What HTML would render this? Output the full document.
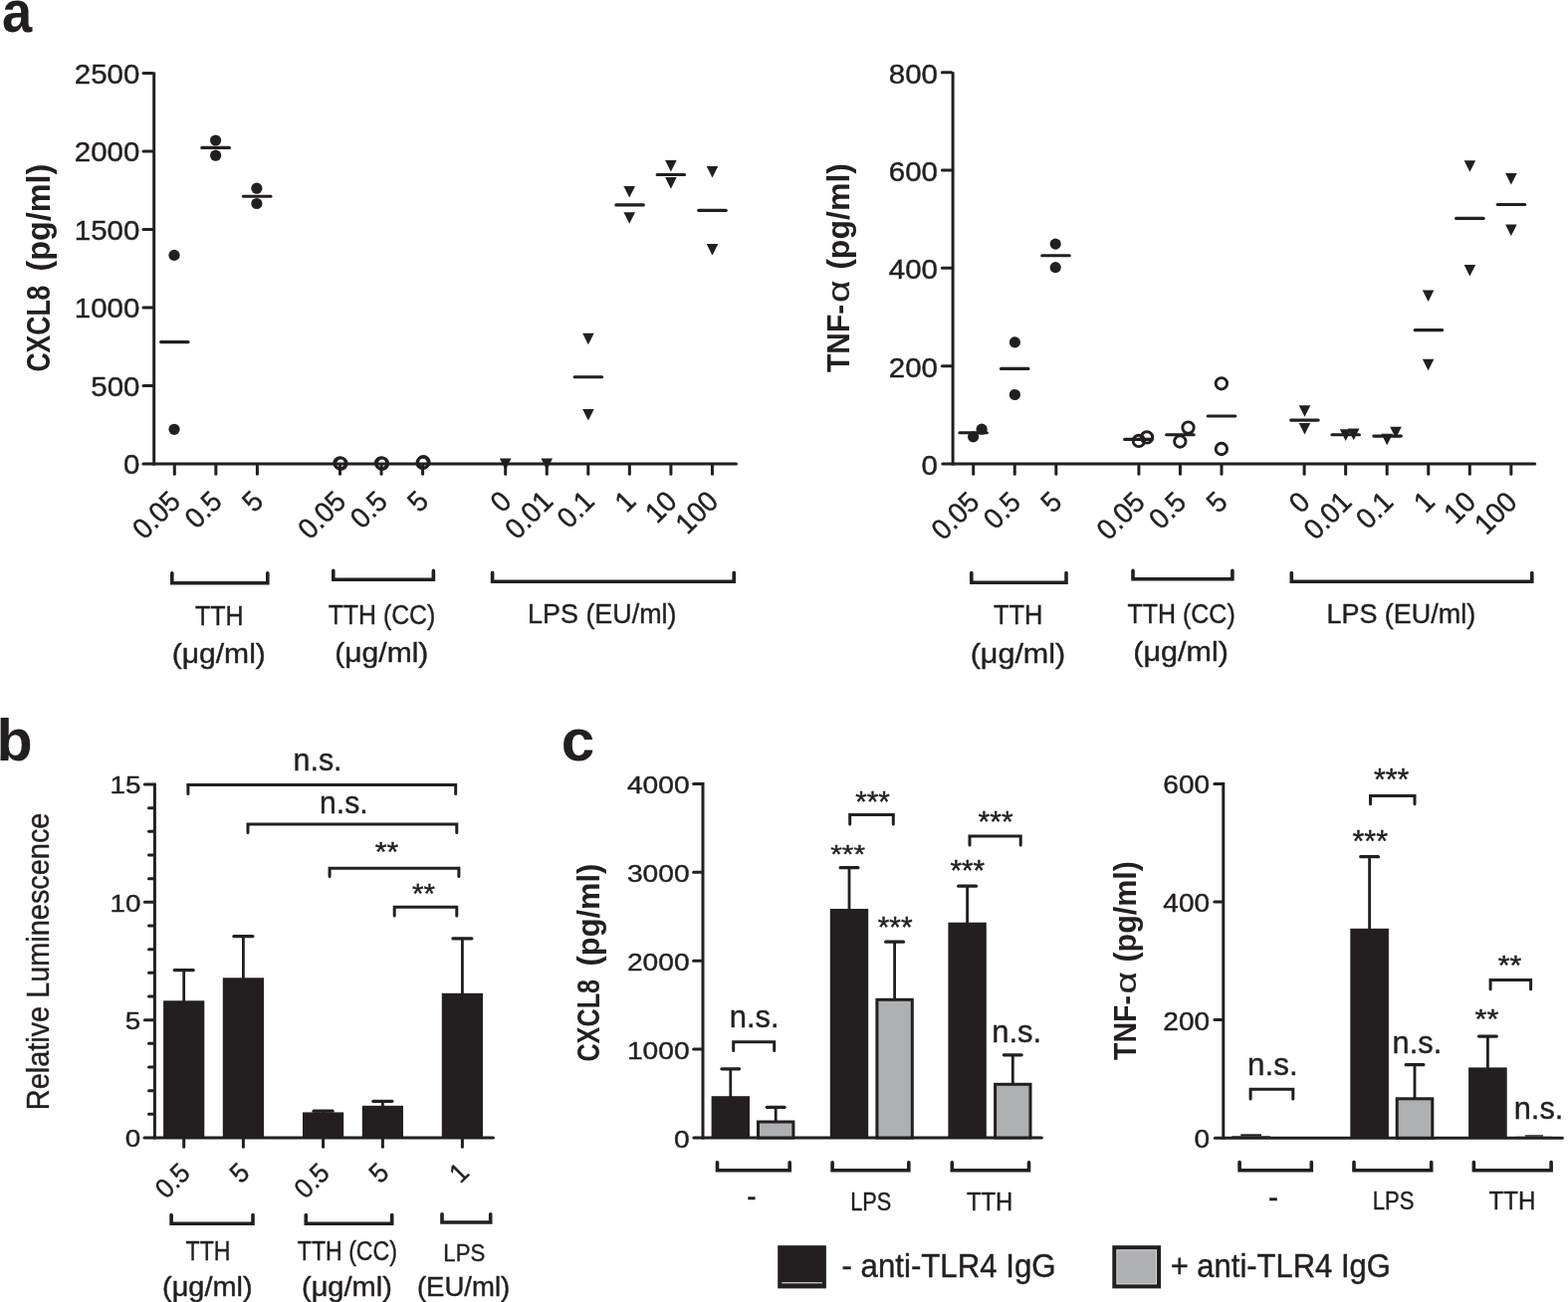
<!DOCTYPE html>
<html><head><meta charset="utf-8"><title>Figure</title>
<style>html,body{margin:0;padding:0;background:#fff;}body{width:1575px;height:1308px;overflow:hidden;}svg{display:block;}</style>
</head><body>
<svg width="1575" height="1308" viewBox="0 0 1575 1308">
<rect width="1575" height="1308" fill="#ffffff"/>
<g stroke="#231f20" fill="none">
<line x1="154.70" y1="72.40" x2="154.70" y2="467.50" stroke-width="3.0" stroke-linecap="butt"/>
<line x1="144.00" y1="466.00" x2="739.40" y2="466.00" stroke-width="3.2" stroke-linecap="round"/>
<line x1="144.00" y1="387.48" x2="153.20" y2="387.48" stroke-width="3.0" stroke-linecap="round"/>
<line x1="144.00" y1="308.96" x2="153.20" y2="308.96" stroke-width="3.0" stroke-linecap="round"/>
<line x1="144.00" y1="230.44" x2="153.20" y2="230.44" stroke-width="3.0" stroke-linecap="round"/>
<line x1="144.00" y1="151.92" x2="153.20" y2="151.92" stroke-width="3.0" stroke-linecap="round"/>
<line x1="144.00" y1="73.40" x2="153.20" y2="73.40" stroke-width="3.0" stroke-linecap="round"/>
<line x1="175.30" y1="467.50" x2="175.30" y2="476.20" stroke-width="3.0" stroke-linecap="round"/>
<line x1="216.85" y1="467.50" x2="216.85" y2="476.20" stroke-width="3.0" stroke-linecap="round"/>
<line x1="258.40" y1="467.50" x2="258.40" y2="476.20" stroke-width="3.0" stroke-linecap="round"/>
<line x1="341.50" y1="467.50" x2="341.50" y2="476.20" stroke-width="3.0" stroke-linecap="round"/>
<line x1="383.05" y1="467.50" x2="383.05" y2="476.20" stroke-width="3.0" stroke-linecap="round"/>
<line x1="424.60" y1="467.50" x2="424.60" y2="476.20" stroke-width="3.0" stroke-linecap="round"/>
<line x1="507.70" y1="467.50" x2="507.70" y2="476.20" stroke-width="3.0" stroke-linecap="round"/>
<line x1="549.25" y1="467.50" x2="549.25" y2="476.20" stroke-width="3.0" stroke-linecap="round"/>
<line x1="590.80" y1="467.50" x2="590.80" y2="476.20" stroke-width="3.0" stroke-linecap="round"/>
<line x1="632.35" y1="467.50" x2="632.35" y2="476.20" stroke-width="3.0" stroke-linecap="round"/>
<line x1="673.90" y1="467.50" x2="673.90" y2="476.20" stroke-width="3.0" stroke-linecap="round"/>
<line x1="715.45" y1="467.50" x2="715.45" y2="476.20" stroke-width="3.0" stroke-linecap="round"/>
<circle cx="175.00" cy="256.40" r="5.6" fill="#231f20" stroke="none"/>
<circle cx="175.00" cy="431.30" r="5.6" fill="#231f20" stroke="none"/>
<line x1="161.55" y1="343.60" x2="189.05" y2="343.60" stroke-width="3.1" stroke-linecap="round"/>
<circle cx="216.60" cy="141.00" r="5.6" fill="#231f20" stroke="none"/>
<circle cx="216.60" cy="156.20" r="5.6" fill="#231f20" stroke="none"/>
<line x1="202.85" y1="148.40" x2="230.35" y2="148.40" stroke-width="3.1" stroke-linecap="round"/>
<circle cx="257.90" cy="189.20" r="5.6" fill="#231f20" stroke="none"/>
<circle cx="257.90" cy="204.50" r="5.6" fill="#231f20" stroke="none"/>
<line x1="244.45" y1="197.20" x2="271.95" y2="197.20" stroke-width="3.1" stroke-linecap="round"/>
<circle cx="341.50" cy="465.30" r="5.7" fill="none" stroke-width="2.9"/>
<circle cx="342.50" cy="465.80" r="5.7" fill="none" stroke-width="2.9"/>
<circle cx="383.05" cy="465.30" r="5.7" fill="none" stroke-width="2.9"/>
<circle cx="384.05" cy="465.80" r="5.7" fill="none" stroke-width="2.9"/>
<circle cx="424.60" cy="465.00" r="5.7" fill="none" stroke-width="2.9"/>
<circle cx="425.40" cy="464.20" r="5.7" fill="none" stroke-width="2.9"/>
<polygon points="501.90,460.40 513.50,460.40 507.70,472.00" fill="#231f20" stroke="none"/>
<polygon points="543.45,460.40 555.05,460.40 549.25,472.00" fill="#231f20" stroke="none"/>
<polygon points="585.10,334.70 596.70,334.70 590.90,346.30" fill="#231f20" stroke="none"/>
<polygon points="585.10,411.00 596.70,411.00 590.90,422.60" fill="#231f20" stroke="none"/>
<line x1="577.15" y1="378.70" x2="604.65" y2="378.70" stroke-width="3.1" stroke-linecap="round"/>
<polygon points="626.40,187.00 638.00,187.00 632.20,198.60" fill="#231f20" stroke="none"/>
<polygon points="626.40,213.20 638.00,213.20 632.20,224.80" fill="#231f20" stroke="none"/>
<line x1="618.85" y1="205.90" x2="646.35" y2="205.90" stroke-width="3.1" stroke-linecap="round"/>
<polygon points="668.10,161.00 679.70,161.00 673.90,172.60" fill="#231f20" stroke="none"/>
<polygon points="668.10,178.10 679.70,178.10 673.90,189.70" fill="#231f20" stroke="none"/>
<line x1="660.15" y1="175.50" x2="687.65" y2="175.50" stroke-width="3.1" stroke-linecap="round"/>
<polygon points="709.70,166.90 721.30,166.90 715.50,178.50" fill="#231f20" stroke="none"/>
<polygon points="709.70,245.00 721.30,245.00 715.50,256.60" fill="#231f20" stroke="none"/>
<line x1="701.75" y1="211.40" x2="729.25" y2="211.40" stroke-width="3.1" stroke-linecap="round"/>
<polyline points="172.80,575.70 172.80,585.80 268.80,585.80 268.80,575.70" fill="none" stroke-width="3.6" stroke-linecap="round" stroke-linejoin="miter"/>
<polyline points="334.80,573.30 334.80,582.20 435.40,582.20 435.40,573.30" fill="none" stroke-width="3.6" stroke-linecap="round" stroke-linejoin="miter"/>
<polyline points="494.60,575.30 494.60,584.20 737.20,584.20 737.20,575.30" fill="none" stroke-width="3.6" stroke-linecap="round" stroke-linejoin="miter"/>
<line x1="957.10" y1="72.20" x2="957.10" y2="467.50" stroke-width="3.0" stroke-linecap="butt"/>
<line x1="946.90" y1="466.00" x2="1541.60" y2="466.00" stroke-width="3.2" stroke-linecap="round"/>
<line x1="946.40" y1="367.68" x2="955.60" y2="367.68" stroke-width="3.0" stroke-linecap="round"/>
<line x1="946.40" y1="269.35" x2="955.60" y2="269.35" stroke-width="3.0" stroke-linecap="round"/>
<line x1="946.40" y1="171.02" x2="955.60" y2="171.02" stroke-width="3.0" stroke-linecap="round"/>
<line x1="946.40" y1="72.70" x2="955.60" y2="72.70" stroke-width="3.0" stroke-linecap="round"/>
<line x1="977.70" y1="467.50" x2="977.70" y2="476.30" stroke-width="3.0" stroke-linecap="round"/>
<line x1="1019.25" y1="467.50" x2="1019.25" y2="476.30" stroke-width="3.0" stroke-linecap="round"/>
<line x1="1060.80" y1="467.50" x2="1060.80" y2="476.30" stroke-width="3.0" stroke-linecap="round"/>
<line x1="1143.90" y1="467.50" x2="1143.90" y2="476.30" stroke-width="3.0" stroke-linecap="round"/>
<line x1="1185.45" y1="467.50" x2="1185.45" y2="476.30" stroke-width="3.0" stroke-linecap="round"/>
<line x1="1227.00" y1="467.50" x2="1227.00" y2="476.30" stroke-width="3.0" stroke-linecap="round"/>
<line x1="1310.10" y1="467.50" x2="1310.10" y2="476.30" stroke-width="3.0" stroke-linecap="round"/>
<line x1="1351.65" y1="467.50" x2="1351.65" y2="476.30" stroke-width="3.0" stroke-linecap="round"/>
<line x1="1393.20" y1="467.50" x2="1393.20" y2="476.30" stroke-width="3.0" stroke-linecap="round"/>
<line x1="1434.75" y1="467.50" x2="1434.75" y2="476.30" stroke-width="3.0" stroke-linecap="round"/>
<line x1="1476.30" y1="467.50" x2="1476.30" y2="476.30" stroke-width="3.0" stroke-linecap="round"/>
<line x1="1517.85" y1="467.50" x2="1517.85" y2="476.30" stroke-width="3.0" stroke-linecap="round"/>
<circle cx="977.60" cy="438.80" r="5.6" fill="#231f20" stroke="none"/>
<circle cx="986.10" cy="431.20" r="5.6" fill="#231f20" stroke="none"/>
<line x1="963.85" y1="434.70" x2="991.35" y2="434.70" stroke-width="3.1" stroke-linecap="round"/>
<circle cx="1019.40" cy="343.90" r="5.6" fill="#231f20" stroke="none"/>
<circle cx="1019.40" cy="396.50" r="5.6" fill="#231f20" stroke="none"/>
<line x1="1005.45" y1="370.40" x2="1032.95" y2="370.40" stroke-width="3.1" stroke-linecap="round"/>
<circle cx="1060.20" cy="245.10" r="5.6" fill="#231f20" stroke="none"/>
<circle cx="1060.20" cy="268.60" r="5.6" fill="#231f20" stroke="none"/>
<line x1="1046.75" y1="256.70" x2="1074.25" y2="256.70" stroke-width="3.1" stroke-linecap="round"/>
<circle cx="1143.90" cy="442.90" r="5.7" fill="none" stroke-width="2.9"/>
<circle cx="1152.00" cy="439.40" r="5.7" fill="none" stroke-width="2.9"/>
<line x1="1129.65" y1="441.40" x2="1157.15" y2="441.40" stroke-width="3.1" stroke-linecap="round"/>
<circle cx="1185.30" cy="443.50" r="5.7" fill="none" stroke-width="2.9"/>
<circle cx="1193.50" cy="429.60" r="5.7" fill="none" stroke-width="2.9"/>
<line x1="1171.65" y1="436.70" x2="1199.15" y2="436.70" stroke-width="3.1" stroke-linecap="round"/>
<circle cx="1226.90" cy="385.30" r="5.7" fill="none" stroke-width="2.9"/>
<circle cx="1226.90" cy="451.00" r="5.7" fill="none" stroke-width="2.9"/>
<line x1="1213.25" y1="418.00" x2="1240.75" y2="418.00" stroke-width="3.1" stroke-linecap="round"/>
<polygon points="1304.70,407.20 1316.30,407.20 1310.50,418.80" fill="#231f20" stroke="none"/>
<polygon points="1304.70,425.00 1316.30,425.00 1310.50,436.60" fill="#231f20" stroke="none"/>
<line x1="1296.65" y1="422.10" x2="1324.15" y2="422.10" stroke-width="3.1" stroke-linecap="round"/>
<polygon points="1345.90,431.30 1357.50,431.30 1351.70,442.90" fill="#231f20" stroke="none"/>
<polygon points="1353.90,430.60 1365.50,430.60 1359.70,442.20" fill="#231f20" stroke="none"/>
<line x1="1337.95" y1="436.70" x2="1365.45" y2="436.70" stroke-width="3.1" stroke-linecap="round"/>
<polygon points="1387.40,435.70 1399.00,435.70 1393.20,447.30" fill="#231f20" stroke="none"/>
<polygon points="1396.20,428.70 1407.80,428.70 1402.00,440.30" fill="#231f20" stroke="none"/>
<line x1="1379.85" y1="438.10" x2="1407.35" y2="438.10" stroke-width="3.1" stroke-linecap="round"/>
<polygon points="1428.80,291.40 1440.40,291.40 1434.60,303.00" fill="#231f20" stroke="none"/>
<polygon points="1428.80,360.70 1440.40,360.70 1434.60,372.30" fill="#231f20" stroke="none"/>
<line x1="1421.15" y1="331.60" x2="1448.65" y2="331.60" stroke-width="3.1" stroke-linecap="round"/>
<polygon points="1470.60,161.20 1482.20,161.20 1476.40,172.80" fill="#231f20" stroke="none"/>
<polygon points="1470.60,265.90 1482.20,265.90 1476.40,277.50" fill="#231f20" stroke="none"/>
<line x1="1462.65" y1="219.40" x2="1490.15" y2="219.40" stroke-width="3.1" stroke-linecap="round"/>
<polygon points="1512.10,173.90 1523.70,173.90 1517.90,185.50" fill="#231f20" stroke="none"/>
<polygon points="1512.10,225.40 1523.70,225.40 1517.90,237.00" fill="#231f20" stroke="none"/>
<line x1="1504.25" y1="205.50" x2="1531.75" y2="205.50" stroke-width="3.1" stroke-linecap="round"/>
<polyline points="975.80,575.50 975.80,585.30 1071.00,585.30 1071.00,575.50" fill="none" stroke-width="3.6" stroke-linecap="round" stroke-linejoin="miter"/>
<polyline points="1138.00,573.40 1138.00,581.80 1237.90,581.80 1237.90,573.40" fill="none" stroke-width="3.6" stroke-linecap="round" stroke-linejoin="miter"/>
<polyline points="1297.30,575.50 1297.30,584.30 1538.80,584.30 1538.80,575.50" fill="none" stroke-width="3.6" stroke-linecap="round" stroke-linejoin="miter"/>
<line x1="155.40" y1="786.50" x2="155.40" y2="1144.50" stroke-width="3.0" stroke-linecap="butt"/>
<line x1="145.10" y1="1143.00" x2="495.40" y2="1143.00" stroke-width="3.2" stroke-linecap="round"/>
<line x1="149.50" y1="1119.33" x2="153.90" y2="1119.33" stroke-width="3.0" stroke-linecap="round"/>
<line x1="149.50" y1="1095.67" x2="153.90" y2="1095.67" stroke-width="3.0" stroke-linecap="round"/>
<line x1="149.50" y1="1072.00" x2="153.90" y2="1072.00" stroke-width="3.0" stroke-linecap="round"/>
<line x1="149.50" y1="1048.33" x2="153.90" y2="1048.33" stroke-width="3.0" stroke-linecap="round"/>
<line x1="145.40" y1="1024.67" x2="153.90" y2="1024.67" stroke-width="3.0" stroke-linecap="round"/>
<line x1="149.50" y1="1001.00" x2="153.90" y2="1001.00" stroke-width="3.0" stroke-linecap="round"/>
<line x1="149.50" y1="977.33" x2="153.90" y2="977.33" stroke-width="3.0" stroke-linecap="round"/>
<line x1="149.50" y1="953.67" x2="153.90" y2="953.67" stroke-width="3.0" stroke-linecap="round"/>
<line x1="149.50" y1="930.00" x2="153.90" y2="930.00" stroke-width="3.0" stroke-linecap="round"/>
<line x1="145.40" y1="906.33" x2="153.90" y2="906.33" stroke-width="3.0" stroke-linecap="round"/>
<line x1="149.50" y1="882.67" x2="153.90" y2="882.67" stroke-width="3.0" stroke-linecap="round"/>
<line x1="149.50" y1="859.00" x2="153.90" y2="859.00" stroke-width="3.0" stroke-linecap="round"/>
<line x1="149.50" y1="835.33" x2="153.90" y2="835.33" stroke-width="3.0" stroke-linecap="round"/>
<line x1="149.50" y1="811.67" x2="153.90" y2="811.67" stroke-width="3.0" stroke-linecap="round"/>
<line x1="145.40" y1="788.00" x2="153.90" y2="788.00" stroke-width="3.0" stroke-linecap="round"/>
<line x1="184.70" y1="974.70" x2="184.70" y2="1006.30" stroke-width="2.8" stroke-linecap="butt"/>
<line x1="175.20" y1="974.70" x2="194.20" y2="974.70" stroke-width="3.2" stroke-linecap="round"/>
<rect x="164.10" y="1005.30" width="41.20" height="137.70" fill="#231f20" stroke="none"/>
<line x1="184.70" y1="1144.50" x2="184.70" y2="1152.20" stroke-width="3.0" stroke-linecap="round"/>
<line x1="244.40" y1="940.60" x2="244.40" y2="983.30" stroke-width="2.8" stroke-linecap="butt"/>
<line x1="234.90" y1="940.60" x2="253.90" y2="940.60" stroke-width="3.2" stroke-linecap="round"/>
<rect x="223.80" y="982.30" width="41.20" height="160.70" fill="#231f20" stroke="none"/>
<line x1="244.40" y1="1144.50" x2="244.40" y2="1152.20" stroke-width="3.0" stroke-linecap="round"/>
<line x1="324.60" y1="1116.20" x2="324.60" y2="1118.40" stroke-width="2.8" stroke-linecap="butt"/>
<line x1="315.10" y1="1116.20" x2="334.10" y2="1116.20" stroke-width="3.2" stroke-linecap="round"/>
<rect x="304.00" y="1117.40" width="41.20" height="25.60" fill="#231f20" stroke="none"/>
<line x1="324.60" y1="1144.50" x2="324.60" y2="1152.20" stroke-width="3.0" stroke-linecap="round"/>
<line x1="384.40" y1="1106.30" x2="384.40" y2="1111.80" stroke-width="2.8" stroke-linecap="butt"/>
<line x1="374.90" y1="1106.30" x2="393.90" y2="1106.30" stroke-width="3.2" stroke-linecap="round"/>
<rect x="363.80" y="1110.80" width="41.20" height="32.20" fill="#231f20" stroke="none"/>
<line x1="384.40" y1="1144.50" x2="384.40" y2="1152.20" stroke-width="3.0" stroke-linecap="round"/>
<line x1="464.40" y1="942.80" x2="464.40" y2="998.80" stroke-width="2.8" stroke-linecap="butt"/>
<line x1="454.90" y1="942.80" x2="473.90" y2="942.80" stroke-width="3.2" stroke-linecap="round"/>
<rect x="443.80" y="997.80" width="41.20" height="145.20" fill="#231f20" stroke="none"/>
<line x1="464.40" y1="1144.50" x2="464.40" y2="1152.20" stroke-width="3.0" stroke-linecap="round"/>
<polyline points="188.90,797.50 188.90,788.40 457.70,788.40 457.70,797.50" fill="none" stroke-width="3.0" stroke-linecap="round" stroke-linejoin="miter"/>
<polyline points="249.00,836.50 249.00,828.10 458.80,828.10 458.80,836.50" fill="none" stroke-width="3.0" stroke-linecap="round" stroke-linejoin="miter"/>
<polyline points="331.10,880.50 331.10,872.20 460.90,872.20 460.90,880.50" fill="none" stroke-width="3.0" stroke-linecap="round" stroke-linejoin="miter"/>
<polyline points="396.20,920.00 396.20,911.30 458.80,911.30 458.80,920.00" fill="none" stroke-width="3.0" stroke-linecap="round" stroke-linejoin="miter"/>
<polyline points="172.10,1220.60 172.10,1229.20 254.00,1229.20 254.00,1220.60" fill="none" stroke-width="3.6" stroke-linecap="round" stroke-linejoin="miter"/>
<polyline points="307.30,1220.60 307.30,1229.20 393.70,1229.20 393.70,1220.60" fill="none" stroke-width="3.6" stroke-linecap="round" stroke-linejoin="miter"/>
<polyline points="444.00,1219.80 444.00,1228.00 492.70,1228.00 492.70,1219.80" fill="none" stroke-width="3.6" stroke-linecap="round" stroke-linejoin="miter"/>
<line x1="706.00" y1="786.00" x2="706.00" y2="1144.50" stroke-width="3.0" stroke-linecap="butt"/>
<line x1="697.00" y1="1143.00" x2="1046.30" y2="1143.00" stroke-width="3.2" stroke-linecap="round"/>
<line x1="696.60" y1="1054.10" x2="704.50" y2="1054.10" stroke-width="3.0" stroke-linecap="round"/>
<line x1="696.60" y1="965.20" x2="704.50" y2="965.20" stroke-width="3.0" stroke-linecap="round"/>
<line x1="696.60" y1="876.30" x2="704.50" y2="876.30" stroke-width="3.0" stroke-linecap="round"/>
<line x1="696.60" y1="787.40" x2="704.50" y2="787.40" stroke-width="3.0" stroke-linecap="round"/>
<line x1="733.80" y1="1073.80" x2="733.80" y2="1102.20" stroke-width="2.8" stroke-linecap="butt"/>
<line x1="724.90" y1="1073.80" x2="742.70" y2="1073.80" stroke-width="3.2" stroke-linecap="round"/>
<rect x="714.60" y="1101.20" width="38.40" height="41.80" fill="#231f20" stroke="none"/>
<line x1="779.20" y1="1112.30" x2="779.20" y2="1126.50" stroke-width="2.8" stroke-linecap="butt"/>
<line x1="770.30" y1="1112.30" x2="788.10" y2="1112.30" stroke-width="3.2" stroke-linecap="round"/>
<rect x="761.50" y="1127.00" width="35.40" height="16.00" fill="#afb0b2" stroke="#231f20" stroke-width="3.0"/>
<line x1="853.00" y1="871.70" x2="853.00" y2="914.00" stroke-width="2.8" stroke-linecap="butt"/>
<line x1="844.10" y1="871.70" x2="861.90" y2="871.70" stroke-width="3.2" stroke-linecap="round"/>
<rect x="833.80" y="913.00" width="38.40" height="230.00" fill="#231f20" stroke="none"/>
<line x1="898.60" y1="946.20" x2="898.60" y2="1003.80" stroke-width="2.8" stroke-linecap="butt"/>
<line x1="889.70" y1="946.20" x2="907.50" y2="946.20" stroke-width="3.2" stroke-linecap="round"/>
<rect x="880.90" y="1004.30" width="35.40" height="138.70" fill="#afb0b2" stroke="#231f20" stroke-width="3.0"/>
<line x1="971.60" y1="890.20" x2="971.60" y2="927.70" stroke-width="2.8" stroke-linecap="butt"/>
<line x1="962.70" y1="890.20" x2="980.50" y2="890.20" stroke-width="3.2" stroke-linecap="round"/>
<rect x="952.40" y="926.70" width="38.40" height="216.30" fill="#231f20" stroke="none"/>
<line x1="1017.30" y1="1059.80" x2="1017.30" y2="1088.80" stroke-width="2.8" stroke-linecap="butt"/>
<line x1="1008.40" y1="1059.80" x2="1026.20" y2="1059.80" stroke-width="3.2" stroke-linecap="round"/>
<rect x="999.60" y="1089.30" width="35.40" height="53.70" fill="#afb0b2" stroke="#231f20" stroke-width="3.0"/>
<polyline points="736.70,1055.50 736.70,1046.80 777.70,1046.80 777.70,1055.50" fill="none" stroke-width="3.0" stroke-linecap="round" stroke-linejoin="miter"/>
<polyline points="853.70,827.90 853.70,818.60 897.30,818.60 897.30,827.90" fill="none" stroke-width="3.0" stroke-linecap="round" stroke-linejoin="miter"/>
<polyline points="974.00,849.10 974.00,839.90 1025.20,839.90 1025.20,849.10" fill="none" stroke-width="3.0" stroke-linecap="round" stroke-linejoin="miter"/>
<polyline points="720.50,1167.80 720.50,1175.80 793.20,1175.80 793.20,1167.80" fill="none" stroke-width="3.6" stroke-linecap="round" stroke-linejoin="miter"/>
<polyline points="836.10,1167.80 836.10,1175.80 912.80,1175.80 912.80,1167.80" fill="none" stroke-width="3.6" stroke-linecap="round" stroke-linejoin="miter"/>
<polyline points="956.30,1167.80 956.30,1175.80 1033.50,1175.80 1033.50,1167.80" fill="none" stroke-width="3.6" stroke-linecap="round" stroke-linejoin="miter"/>
<line x1="1228.80" y1="786.00" x2="1228.80" y2="1144.60" stroke-width="3.0" stroke-linecap="butt"/>
<line x1="1220.40" y1="1143.20" x2="1569.30" y2="1143.20" stroke-width="3.0" stroke-linecap="round"/>
<line x1="1219.90" y1="1024.60" x2="1227.30" y2="1024.60" stroke-width="3.0" stroke-linecap="round"/>
<line x1="1219.90" y1="906.00" x2="1227.30" y2="906.00" stroke-width="3.0" stroke-linecap="round"/>
<line x1="1219.90" y1="787.40" x2="1227.30" y2="787.40" stroke-width="3.0" stroke-linecap="round"/>
<rect x="1237.20" y="1141.30" width="38.80" height="1.90" fill="#231f20" stroke="none"/>
<line x1="1246.30" y1="1140.30" x2="1267.00" y2="1140.30" stroke-width="2.0" stroke-linecap="butt"/>
<line x1="1375.60" y1="860.70" x2="1375.60" y2="933.80" stroke-width="2.8" stroke-linecap="butt"/>
<line x1="1366.70" y1="860.70" x2="1384.50" y2="860.70" stroke-width="3.2" stroke-linecap="round"/>
<rect x="1356.30" y="932.80" width="38.60" height="210.40" fill="#231f20" stroke="none"/>
<line x1="1421.00" y1="1069.70" x2="1421.00" y2="1103.30" stroke-width="2.8" stroke-linecap="butt"/>
<line x1="1412.10" y1="1069.70" x2="1429.90" y2="1069.70" stroke-width="3.2" stroke-linecap="round"/>
<rect x="1403.20" y="1103.80" width="35.60" height="39.40" fill="#afb0b2" stroke="#231f20" stroke-width="3.0"/>
<line x1="1494.40" y1="1041.10" x2="1494.40" y2="1073.40" stroke-width="2.8" stroke-linecap="butt"/>
<line x1="1485.50" y1="1041.10" x2="1503.30" y2="1041.10" stroke-width="3.2" stroke-linecap="round"/>
<rect x="1475.10" y="1072.40" width="38.60" height="70.80" fill="#231f20" stroke="none"/>
<rect x="1522.40" y="1141.80" width="36.30" height="1.40" fill="#231f20" stroke="none"/>
<line x1="1532.00" y1="1141.00" x2="1550.00" y2="1141.00" stroke-width="1.5" stroke-linecap="butt"/>
<polyline points="1256.10,1104.00 1256.10,1094.30 1298.80,1094.30 1298.80,1104.00" fill="none" stroke-width="3.0" stroke-linecap="round" stroke-linejoin="miter"/>
<polyline points="1376.50,807.80 1376.50,799.40 1421.00,799.40 1421.00,807.80" fill="none" stroke-width="3.0" stroke-linecap="round" stroke-linejoin="miter"/>
<polyline points="1497.10,993.70 1497.10,984.40 1537.60,984.40 1537.60,993.70" fill="none" stroke-width="3.0" stroke-linecap="round" stroke-linejoin="miter"/>
<polyline points="1245.10,1167.50 1245.10,1175.80 1317.30,1175.80 1317.30,1167.50" fill="none" stroke-width="3.6" stroke-linecap="round" stroke-linejoin="miter"/>
<polyline points="1360.00,1167.50 1360.00,1175.80 1437.70,1175.80 1437.70,1167.50" fill="none" stroke-width="3.6" stroke-linecap="round" stroke-linejoin="miter"/>
<polyline points="1480.40,1167.50 1480.40,1175.80 1558.10,1175.80 1558.10,1167.50" fill="none" stroke-width="3.6" stroke-linecap="round" stroke-linejoin="miter"/>
<rect x="781.20" y="1251.20" width="48.70" height="43.20" fill="#231f20" stroke="none"/>
<line stroke="#ffffff" x1="785.20" y1="1288.80" x2="825.90" y2="1288.80" stroke-width="1.0" stroke-linecap="butt"/>
<rect x="1117.30" y="1251.20" width="48.70" height="43.20" fill="#231f20" stroke="none"/>
<rect x="1121.30" y="1255.20" width="40.70" height="35.20" fill="#d8d9da" stroke="none"/>
<rect x="1122.30" y="1256.20" width="38.70" height="33.20" fill="#afb0b2" stroke="none"/>
</g>
<g fill="#231f20" font-family="'Liberation Sans', Arial, sans-serif" style="white-space:pre">
<text transform="translate(123.97,476.40) scale(1.1000,1)" font-size="26.80" stroke="#231f20" stroke-width="0.4">0</text>
<text transform="translate(91.25,397.88) scale(1.1000,1)" font-size="26.80" stroke="#231f20" stroke-width="0.4">500</text>
<text transform="translate(74.74,319.36) scale(1.1000,1)" font-size="26.80" stroke="#231f20" stroke-width="0.4">1000</text>
<text transform="translate(74.74,240.84) scale(1.1000,1)" font-size="26.80" stroke="#231f20" stroke-width="0.4">1500</text>
<text transform="translate(74.74,162.32) scale(1.1000,1)" font-size="26.80" stroke="#231f20" stroke-width="0.4">2000</text>
<text transform="translate(74.74,83.80) scale(1.1000,1)" font-size="26.80" stroke="#231f20" stroke-width="0.4">2500</text>
<text transform="translate(196.00,627.70) scale(0.9078,1)" font-size="27.60" stroke="#231f20" stroke-width="0.4">TTH</text>
<text transform="translate(172.70,665.60) scale(1.0894,1)" font-size="27.60" stroke="#231f20" stroke-width="0.4">(μg/ml)</text>
<text transform="translate(329.70,626.60) scale(0.9003,1)" font-size="27.60" stroke="#231f20" stroke-width="0.4">TTH (CC)</text>
<text transform="translate(336.30,664.60) scale(1.0882,1)" font-size="27.60" stroke="#231f20" stroke-width="0.4">(μg/ml)</text>
<text transform="translate(530.05,626.00) scale(0.9751,1)" font-size="27.60" stroke="#231f20" stroke-width="0.4">LPS (EU/ml)</text>
<text transform="translate(144.99,543.36) rotate(-45) scale(0.9500,1)" font-size="29.00" stroke="#231f20" stroke-width="0.4">0.05</text>
<text transform="translate(197.45,532.45) rotate(-45) scale(0.9500,1)" font-size="29.00" stroke="#231f20" stroke-width="0.4">0.5</text>
<text transform="translate(255.16,516.08) rotate(-45) scale(0.9500,1)" font-size="29.00" stroke="#231f20" stroke-width="0.4">5</text>
<text transform="translate(311.19,543.36) rotate(-45) scale(0.9500,1)" font-size="29.00" stroke="#231f20" stroke-width="0.4">0.05</text>
<text transform="translate(363.65,532.45) rotate(-45) scale(0.9500,1)" font-size="29.00" stroke="#231f20" stroke-width="0.4">0.5</text>
<text transform="translate(421.36,516.08) rotate(-45) scale(0.9500,1)" font-size="29.00" stroke="#231f20" stroke-width="0.4">5</text>
<text transform="translate(504.46,516.28) rotate(-45) scale(0.9500,1)" font-size="29.00" stroke="#231f20" stroke-width="0.4">0</text>
<text transform="translate(519.13,543.17) rotate(-45) scale(0.9500,1)" font-size="29.00" stroke="#231f20" stroke-width="0.4">0.01</text>
<text transform="translate(571.59,532.26) rotate(-45) scale(0.9500,1)" font-size="29.00" stroke="#231f20" stroke-width="0.4">0.1</text>
<text transform="translate(629.51,515.88) rotate(-45) scale(0.9500,1)" font-size="29.00" stroke="#231f20" stroke-width="0.4">1</text>
<text transform="translate(659.95,527.00) rotate(-45) scale(0.9500,1)" font-size="29.00" stroke="#231f20" stroke-width="0.4">10</text>
<text transform="translate(690.59,537.91) rotate(-45) scale(0.9500,1)" font-size="29.00" stroke="#231f20" stroke-width="0.4">100</text>
<text transform="translate(50.10,373.56) rotate(-90) scale(0.8034,1)" font-size="33.00" font-weight="bold">CXCL8</text>
<text transform="translate(50.10,272.52) rotate(-90) scale(0.9804,1)" font-size="33.00" font-weight="bold">(pg/ml)</text>
<text transform="translate(2.07,32.11) scale(0.9140,1)" font-size="59.45" font-weight="bold">a</text>
<text transform="translate(925.47,477.00) scale(1.1000,1)" font-size="26.80" stroke="#231f20" stroke-width="0.4">0</text>
<text transform="translate(892.75,378.68) scale(1.1000,1)" font-size="26.80" stroke="#231f20" stroke-width="0.4">200</text>
<text transform="translate(892.75,280.35) scale(1.1000,1)" font-size="26.80" stroke="#231f20" stroke-width="0.4">400</text>
<text transform="translate(892.75,182.02) scale(1.1000,1)" font-size="26.80" stroke="#231f20" stroke-width="0.4">600</text>
<text transform="translate(892.75,83.70) scale(1.1000,1)" font-size="26.80" stroke="#231f20" stroke-width="0.4">800</text>
<text transform="translate(997.89,627.30) scale(0.9235,1)" font-size="27.60" stroke="#231f20" stroke-width="0.4">TTH</text>
<text transform="translate(974.67,665.50) scale(1.1062,1)" font-size="27.60" stroke="#231f20" stroke-width="0.4">(μg/ml)</text>
<text transform="translate(1132.50,626.10) scale(0.9054,1)" font-size="27.60" stroke="#231f20" stroke-width="0.4">TTH (CC)</text>
<text transform="translate(1138.37,663.50) scale(1.1050,1)" font-size="27.60" stroke="#231f20" stroke-width="0.4">(μg/ml)</text>
<text transform="translate(1332.44,626.10) scale(0.9771,1)" font-size="27.60" stroke="#231f20" stroke-width="0.4">LPS (EU/ml)</text>
<text transform="translate(947.39,544.06) rotate(-45) scale(0.9500,1)" font-size="29.00" stroke="#231f20" stroke-width="0.4">0.05</text>
<text transform="translate(999.85,533.15) rotate(-45) scale(0.9500,1)" font-size="29.00" stroke="#231f20" stroke-width="0.4">0.5</text>
<text transform="translate(1057.56,516.78) rotate(-45) scale(0.9500,1)" font-size="29.00" stroke="#231f20" stroke-width="0.4">5</text>
<text transform="translate(1113.59,544.06) rotate(-45) scale(0.9500,1)" font-size="29.00" stroke="#231f20" stroke-width="0.4">0.05</text>
<text transform="translate(1166.05,533.15) rotate(-45) scale(0.9500,1)" font-size="29.00" stroke="#231f20" stroke-width="0.4">0.5</text>
<text transform="translate(1223.76,516.78) rotate(-45) scale(0.9500,1)" font-size="29.00" stroke="#231f20" stroke-width="0.4">5</text>
<text transform="translate(1306.86,516.98) rotate(-45) scale(0.9500,1)" font-size="29.00" stroke="#231f20" stroke-width="0.4">0</text>
<text transform="translate(1321.53,543.87) rotate(-45) scale(0.9500,1)" font-size="29.00" stroke="#231f20" stroke-width="0.4">0.01</text>
<text transform="translate(1373.99,532.96) rotate(-45) scale(0.9500,1)" font-size="29.00" stroke="#231f20" stroke-width="0.4">0.1</text>
<text transform="translate(1431.91,516.58) rotate(-45) scale(0.9500,1)" font-size="29.00" stroke="#231f20" stroke-width="0.4">1</text>
<text transform="translate(1462.35,527.70) rotate(-45) scale(0.9500,1)" font-size="29.00" stroke="#231f20" stroke-width="0.4">10</text>
<text transform="translate(1492.99,538.61) rotate(-45) scale(0.9500,1)" font-size="29.00" stroke="#231f20" stroke-width="0.4">100</text>
<text transform="translate(852.80,373.90) rotate(-90) scale(0.9333,1)" font-size="32.00" font-weight="bold">TNF-</text>
<text transform="translate(853.40,303.95) rotate(-90) scale(1.2132,1)" font-size="32.00" stroke="#231f20" stroke-width="0.2">α</text>
<text transform="translate(852.80,270.80) rotate(-90) scale(1.0023,1)" font-size="32.00" font-weight="bold">(pg/ml)</text>
<text transform="translate(125.74,1152.20) scale(1.1400,1)" font-size="24.40" stroke="#231f20" stroke-width="0.4">0</text>
<text transform="translate(125.74,1033.87) scale(1.1400,1)" font-size="24.40" stroke="#231f20" stroke-width="0.4">5</text>
<text transform="translate(110.44,915.53) scale(1.1400,1)" font-size="24.40" stroke="#231f20" stroke-width="0.4">10</text>
<text transform="translate(110.44,797.20) scale(1.1400,1)" font-size="24.40" stroke="#231f20" stroke-width="0.4">15</text>
<text transform="translate(294.47,774.08) scale(0.9580,1)" font-size="31.82" stroke="#231f20" stroke-width="0.4">n.s.</text>
<text transform="translate(321.09,817.09) scale(0.9867,1)" font-size="30.55" stroke="#231f20" stroke-width="0.4">n.s.</text>
<text transform="translate(376.69,865.32) scale(1.0922,1)" font-size="27.71" stroke="#231f20" stroke-width="0.4">**</text>
<text transform="translate(414.11,906.72) scale(1.0569,1)" font-size="28.00" stroke="#231f20" stroke-width="0.4">**</text>
<text transform="translate(186.54,1266.30) scale(0.8639,1)" font-size="26.80" stroke="#231f20" stroke-width="0.4">TTH</text>
<text transform="translate(163.06,1302.00) scale(1.0797,1)" font-size="26.80" stroke="#231f20" stroke-width="0.4">(μg/ml)</text>
<text transform="translate(298.74,1266.30) scale(0.8639,1)" font-size="26.80" stroke="#231f20" stroke-width="0.4">TTH (CC)</text>
<text transform="translate(302.96,1302.00) scale(1.0835,1)" font-size="26.80" stroke="#231f20" stroke-width="0.4">(μg/ml)</text>
<text transform="translate(445.32,1267.40) scale(0.8958,1)" font-size="24.80" stroke="#231f20" stroke-width="0.4">LPS</text>
<text transform="translate(418.95,1302.00) scale(1.0281,1)" font-size="26.80" stroke="#231f20" stroke-width="0.4">(EU/ml)</text>
<text transform="translate(166.97,1205.55) rotate(-45) scale(0.9500,1)" font-size="27.50" stroke="#231f20" stroke-width="0.4">0.5</text>
<text transform="translate(242.00,1190.02) rotate(-45) scale(0.9500,1)" font-size="27.50" stroke="#231f20" stroke-width="0.4">5</text>
<text transform="translate(306.87,1205.55) rotate(-45) scale(0.9500,1)" font-size="27.50" stroke="#231f20" stroke-width="0.4">0.5</text>
<text transform="translate(382.00,1190.02) rotate(-45) scale(0.9500,1)" font-size="27.50" stroke="#231f20" stroke-width="0.4">5</text>
<text transform="translate(462.38,1189.84) rotate(-45) scale(0.9500,1)" font-size="27.50" stroke="#231f20" stroke-width="0.4">1</text>
<text transform="translate(49.20,1115.21) rotate(-90) scale(0.9170,1)" font-size="31.50" stroke="#231f20" stroke-width="0.4">Relative Luminescence</text>
<text transform="translate(-3.44,764.21)" font-size="59.19" font-weight="bold">b</text>
<text transform="translate(676.95,1153.00) scale(1.1500,1)" font-size="24.50" stroke="#231f20" stroke-width="0.4">0</text>
<text transform="translate(629.90,1064.10) scale(1.1500,1)" font-size="24.50" stroke="#231f20" stroke-width="0.4">1000</text>
<text transform="translate(629.90,975.20) scale(1.1500,1)" font-size="24.50" stroke="#231f20" stroke-width="0.4">2000</text>
<text transform="translate(629.90,886.30) scale(1.1500,1)" font-size="24.50" stroke="#231f20" stroke-width="0.4">3000</text>
<text transform="translate(629.90,797.40) scale(1.1500,1)" font-size="24.50" stroke="#231f20" stroke-width="0.4">4000</text>
<text transform="translate(732.73,1031.58) scale(0.9677,1)" font-size="32.00" stroke="#231f20" stroke-width="0.4">n.s.</text>
<text transform="translate(834.20,867.14) scale(1.1346,1)" font-size="26.29" stroke="#231f20" stroke-width="0.4">***</text>
<text transform="translate(881.70,940.71) scale(1.0233,1)" font-size="29.14" stroke="#231f20" stroke-width="0.4">***</text>
<text transform="translate(859.21,814.61) scale(1.0173,1)" font-size="29.14" stroke="#231f20" stroke-width="0.4">***</text>
<text transform="translate(954.41,884.01) scale(1.0074,1)" font-size="29.43" stroke="#231f20" stroke-width="0.4">***</text>
<text transform="translate(982.60,834.81) scale(1.0294,1)" font-size="29.14" stroke="#231f20" stroke-width="0.4">***</text>
<text transform="translate(996.13,1046.98) scale(0.9754,1)" font-size="31.82" stroke="#231f20" stroke-width="0.4">n.s.</text>
<text transform="translate(750.18,1212.19) scale(0.8960,1)" font-size="31.25" stroke="#231f20" stroke-width="0.4">-</text>
<text transform="translate(854.26,1215.50) scale(0.8370,1)" font-size="26.00" stroke="#231f20" stroke-width="0.4">LPS</text>
<text transform="translate(970.92,1215.50) scale(0.9176,1)" font-size="26.00" stroke="#231f20" stroke-width="0.4">TTH</text>
<text transform="translate(602.00,1066.61) rotate(-90) scale(0.7935,1)" font-size="31.80" font-weight="bold">CXCL8</text>
<text transform="translate(602.00,970.44) rotate(-90) scale(0.9687,1)" font-size="31.80" font-weight="bold">(pg/ml)</text>
<text transform="translate(563.69,764.21) scale(1.0157,1)" font-size="59.27" font-weight="bold">c</text>
<text transform="translate(1199.44,1153.10) scale(1.1200,1)" font-size="25.00" stroke="#231f20" stroke-width="0.4">0</text>
<text transform="translate(1168.36,1034.50) scale(1.1200,1)" font-size="25.00" stroke="#231f20" stroke-width="0.4">200</text>
<text transform="translate(1168.36,915.90) scale(1.1200,1)" font-size="25.00" stroke="#231f20" stroke-width="0.4">400</text>
<text transform="translate(1168.36,797.30) scale(1.1200,1)" font-size="25.00" stroke="#231f20" stroke-width="0.4">600</text>
<text transform="translate(1252.99,1080.18) scale(0.9905,1)" font-size="31.82" stroke="#231f20" stroke-width="0.4">n.s.</text>
<text transform="translate(1379.89,794.09) scale(0.9958,1)" font-size="30.57" stroke="#231f20" stroke-width="0.4">***</text>
<text transform="translate(1358.49,855.99) scale(0.9958,1)" font-size="30.57" stroke="#231f20" stroke-width="0.4">***</text>
<text transform="translate(1398.54,1058.28) scale(0.9689,1)" font-size="31.82" stroke="#231f20" stroke-width="0.4">n.s.</text>
<text transform="translate(1481.59,1032.73) scale(1.1252,1)" font-size="27.14" stroke="#231f20" stroke-width="0.4">**</text>
<text transform="translate(1504.69,978.51) scale(1.0689,1)" font-size="28.57" stroke="#231f20" stroke-width="0.4">**</text>
<text transform="translate(1520.75,1123.98) scale(0.9667,1)" font-size="31.82" stroke="#231f20" stroke-width="0.4">n.s.</text>
<text transform="translate(1274.10,1212.99) scale(0.9600,1)" font-size="31.25" stroke="#231f20" stroke-width="0.4">-</text>
<text transform="translate(1378.83,1215.30) scale(0.8501,1)" font-size="26.00" stroke="#231f20" stroke-width="0.4">LPS</text>
<text transform="translate(1495.52,1215.30) scale(0.9281,1)" font-size="26.00" stroke="#231f20" stroke-width="0.4">TTH</text>
<text transform="translate(1140.60,1064.89) rotate(-90) scale(0.9260,1)" font-size="30.80" font-weight="bold">TNF-</text>
<text transform="translate(1141.30,998.55) rotate(-90) scale(1.3181,1)" font-size="29.45" stroke="#231f20" stroke-width="0.2">α</text>
<text transform="translate(1141.00,966.62) rotate(-90) scale(0.9891,1)" font-size="30.80" font-weight="bold">(pg/ml)</text>
<text transform="translate(845.55,1282.70) scale(0.9637,1)" font-size="32.40" stroke="#231f20" stroke-width="0.4">- anti-TLR4 IgG</text>
<text transform="translate(1175.65,1282.70) scale(0.9558,1)" font-size="32.40" stroke="#231f20" stroke-width="0.4">+ anti-TLR4 IgG</text>
</g>
</svg>
</body></html>
